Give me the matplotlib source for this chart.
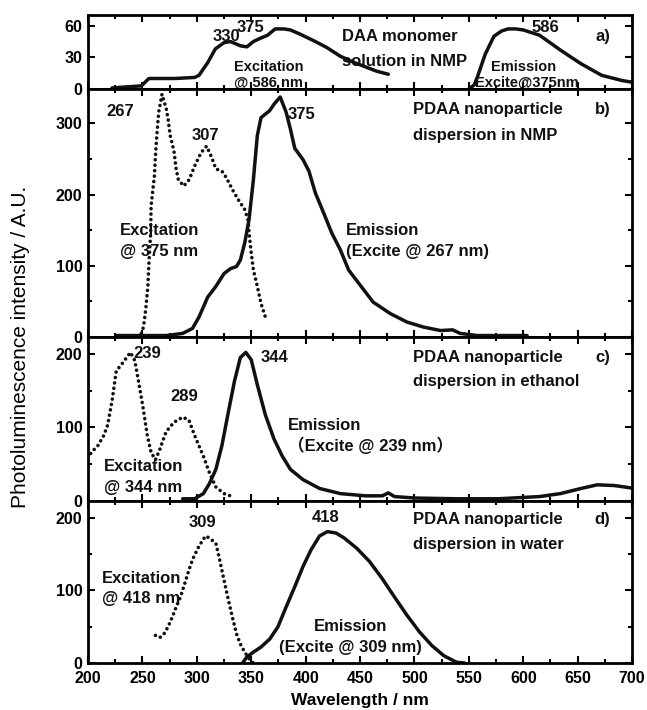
import matplotlib.pyplot as plt
from matplotlib.ticker import MultipleLocator

plt.rcParams['font.family'] = ['Liberation Sans', 'Noto Sans CJK SC', 'DejaVu Sans']

# a) DAA monomer in NMP
a_ex_x = [222, 235, 249, 253, 256, 265, 280, 298, 302, 310, 317, 325, 331, 340, 346, 352, 358, 365, 372, 380,
          386, 395, 409, 420, 432, 445, 455, 465, 476]
a_ex_y = [1, 2, 3, 7, 10, 10, 10, 11, 13, 25, 38, 44, 45, 41, 40, 45, 48, 51, 57, 57,
          56, 52, 45, 39, 31, 25, 21, 17, 14]
a_em_x = [550, 555, 558, 565, 573, 580, 586, 593, 600, 615, 634, 653, 672, 691, 703]
a_em_y = [0, 4, 12, 33, 50, 55, 57, 57, 56, 51, 37, 24, 13, 8, 6]

# b) PDAA nanoparticles in NMP
b_ex_x = [249, 251, 253, 255, 256, 257.6, 258, 259.5, 261, 262, 263, 265, 268, 272, 273.6, 275.5, 279, 281,
          283, 288, 293, 298, 304, 309, 313.7, 317.5, 323, 327, 332.7, 338, 344, 347, 348, 350, 352, 355.6,
          359, 363]
b_ex_y = [5, 14, 38, 71, 104, 146, 184, 205, 226, 254, 278, 316, 341, 320, 306, 283, 261, 236,
          221, 212, 221, 240, 259, 268, 252, 236, 233, 224, 207, 193, 179, 165, 146, 118, 94, 71,
          47, 28]
b_em_x = [226, 250, 272, 287, 296, 302, 310, 317.5, 325, 331, 336.5, 340, 344, 348, 352, 355.6, 359, 367,
          371, 376.6, 382, 386, 390, 397.6, 403, 409, 416.6, 424, 432, 439.5, 451, 462, 477.6, 493, 508,
          524, 535, 542, 557.7, 580, 603.5]
b_em_y = [2, 2, 2, 5, 12, 28, 56, 71, 89, 96, 99, 108, 132, 165, 221, 283, 308, 318,
          327, 337, 316, 292, 265, 249, 233, 202, 174, 146, 122, 94, 71, 49, 33, 21, 14,
          9, 10, 5, 2, 2, 2]

# c) PDAA nanoparticles in ethanol
c_ex_x = [200, 203, 209, 214.5, 218, 222, 226, 230, 235.5, 239, 243, 247, 250.7, 254.5, 258, 262, 266,
          271.7, 279, 287, 292.7, 298, 306, 311.7, 317.5, 325, 332.7]
c_ex_y = [58, 66, 75, 89, 103, 135, 177, 184, 195, 202, 191, 158, 126, 89, 66, 56, 70,
          94, 107, 114, 110, 89, 61, 38, 19, 10, 6]
c_em_x = [287, 298, 306, 311.7, 317.5, 323, 329, 334.6, 340, 345, 350, 355.6, 363, 371, 378.5, 386, 397.6,
          412.8, 432, 455, 470.5, 476, 481.5, 500.5, 538.7, 576.8, 615, 634, 653, 668, 683.6, 702.6]
c_em_y = [3, 3, 10, 24, 43, 75, 121, 163, 195, 202, 192, 158, 117, 84, 61, 43, 29,
          17, 10, 7, 7, 11, 6, 4, 3, 3, 6, 10, 17, 22, 21, 17]

# d) PDAA nanoparticles in water
d_ex_x = [262, 266, 269.8, 273.6, 277.4, 281, 285, 289, 292.7, 296.5, 302, 308, 311.7, 317.5, 321, 325,
          329, 332.7, 336.5, 340, 344, 348, 352]
d_ex_y = [38, 35, 40, 50, 63, 77, 91, 110, 128, 144, 161, 175, 172, 165, 142, 114,
          87, 63, 40, 26, 15, 6, 0]
d_em_x = [342, 345.8, 352, 359, 367, 374.6, 382, 390, 397.6, 405, 412.8, 420, 428, 435.6, 447, 458.6, 470,
          481.6, 493, 504.5, 516, 527, 538.7, 546]
d_em_y = [0, 8, 15, 22, 33, 50, 77, 105, 133, 156, 175, 181, 179, 172, 158, 140, 117,
          91, 66, 43, 24, 10, 1, 0]

fig = plt.figure(figsize=(6.47, 7.10), dpi=100)
L, W = 0.136, 0.841
ax_a = fig.add_axes([L, 0.8746, W, 0.104])
ax_b = fig.add_axes([L, 0.5254, W, 0.349])
ax_c = fig.add_axes([L, 0.2944, W, 0.231])
ax_d = fig.add_axes([L, 0.0662, W, 0.228])

dots = dict(color='#111111', lw=2.6, linestyle=(0, (0.01, 1.5)), dash_capstyle='round')
solid = dict(color='#111111', lw=2.5, solid_capstyle='round')

ax_a.plot(a_ex_x, a_ex_y, **solid)
ax_a.plot(a_em_x, a_em_y, **solid)
ax_b.plot(b_ex_x, b_ex_y, **dots)
ax_b.plot(b_em_x, b_em_y, **solid)
ax_c.plot(c_ex_x, c_ex_y, **dots)
ax_c.plot(c_em_x, c_em_y, **solid)
ax_d.plot(d_ex_x, d_ex_y, **dots)
ax_d.plot(d_em_x, d_em_y, **solid)

ylims = [(0, 70), (0, 348), (0, 223), (0, 223)]
yticks = [[0, 30, 60], [0, 100, 200, 300], [0, 100, 200], [0, 100, 200]]
for ax, yl, yt in zip([ax_a, ax_b, ax_c, ax_d], ylims, yticks):
    ax.set_xlim(200, 700)
    ax.set_ylim(*yl)
    ax.set_yticks(yt)
    ax.xaxis.set_major_locator(MultipleLocator(50))
    ax.xaxis.set_minor_locator(MultipleLocator(25))
    if yl[1] > 100:
        ax.yaxis.set_minor_locator(MultipleLocator(50))
    ax.tick_params(which='both', direction='in', top=True, right=True, width=1.5)
    ax.tick_params(which='major', length=5, labelsize=11.5)
    ax.tick_params(axis='y', which='major', pad=4)
    ax.tick_params(axis='x', which='major', pad=6)
    ax.tick_params(which='minor', length=3)
    for lab in ax.get_yticklabels() + ax.get_xticklabels():
        lab.set_fontweight('bold')
    for s in ax.spines.values():
        s.set_linewidth(2)
    if ax is not ax_d:
        ax.set_xticklabels([])

tk = dict(fontsize=12, fontweight='bold', color='#111111')
tka = dict(fontsize=10.5, fontweight='bold', color='#111111')

# panel a
ax_a.text(327, 50, '330', ha='center', va='center', **tk)
ax_a.text(349, 58, '375', ha='center', va='center', **tk)
ax_a.text(366, 21, 'Excitation', ha='center', va='center', **tka)
ax_a.text(366, 6, '@ 586 nm', ha='center', va='center', **tka)
ax_a.text(433, 50, 'DAA monomer', ha='left', va='center', **tk)
ax_a.text(433, 26, 'solution in NMP', ha='left', va='center', **tk)
ax_a.text(620, 58, '586', ha='center', va='center', **tk)
ax_a.text(600, 21, 'Emission', ha='center', va='center', **tka)
ax_a.text(603, 6, 'Excite@375nm', ha='center', va='center', **tka)
ax_a.text(673, 50, 'a)', ha='center', va='center', **tk)

# panel b
ax_b.text(230, 316, '267', ha='center', va='center', **tk)
ax_b.text(308, 283, '307', ha='center', va='center', **tk)
ax_b.text(396, 313, '375', ha='center', va='center', **tk)
ax_b.text(229, 150, 'Excitation', ha='left', va='center', **tk)
ax_b.text(229, 120, '@ 375 nm', ha='left', va='center', **tk)
ax_b.text(437, 150, 'Emission', ha='left', va='center', **tk)
ax_b.text(437, 120, '(Excite @ 267 nm)', ha='left', va='center', **tk)
ax_b.text(499, 320, 'PDAA nanoparticle', ha='left', va='center', **tk)
ax_b.text(499, 283, 'dispersion in NMP', ha='left', va='center', **tk)
ax_b.text(673, 320, 'b)', ha='center', va='center', **tk)

# panel c
ax_c.text(254, 201, '239', ha='center', va='center', **tk)
ax_c.text(288, 142, '289', ha='center', va='center', **tk)
ax_c.text(371, 195, '344', ha='center', va='center', **tk)
ax_c.text(215, 47, 'Excitation', ha='left', va='center', **tk)
ax_c.text(215, 19, '@ 344 nm', ha='left', va='center', **tk)
ax_c.text(384, 103, 'Emission', ha='left', va='center', **tk)
ax_c.text(384, 75, '\uff08Excite @ 239 nm\uff09', ha='left', va='center', **tk)
ax_c.text(499, 195, 'PDAA nanoparticle', ha='left', va='center', **tk)
ax_c.text(499, 162, 'dispersion in ethanol', ha='left', va='center', **tk)
ax_c.text(673, 195, 'c)', ha='center', va='center', **tk)

# panel d
ax_d.text(305, 193, '309', ha='center', va='center', **tk)
ax_d.text(418, 200, '418', ha='center', va='center', **tk)
ax_d.text(213, 117, 'Excitation', ha='left', va='center', **tk)
ax_d.text(213, 89, '@ 418 nm', ha='left', va='center', **tk)
ax_d.text(441, 50, 'Emission', ha='center', va='center', **tk)
ax_d.text(441, 22, '(Excite @ 309 nm)', ha='center', va='center', **tk)
ax_d.text(499, 198, 'PDAA nanoparticle', ha='left', va='center', **tk)
ax_d.text(499, 163, 'dispersion in water', ha='left', va='center', **tk)
ax_d.text(673, 198, 'd)', ha='center', va='center', **tk)

ax_d.set_xlabel('Wavelength / nm', fontsize=12.5, fontweight='bold', labelpad=5)
fig.text(0.031, 0.511, 'Photoluminescence intensity / A.U.', rotation=90,
         ha='center', va='center', fontsize=15)

fig.savefig('out.png', dpi=100)
